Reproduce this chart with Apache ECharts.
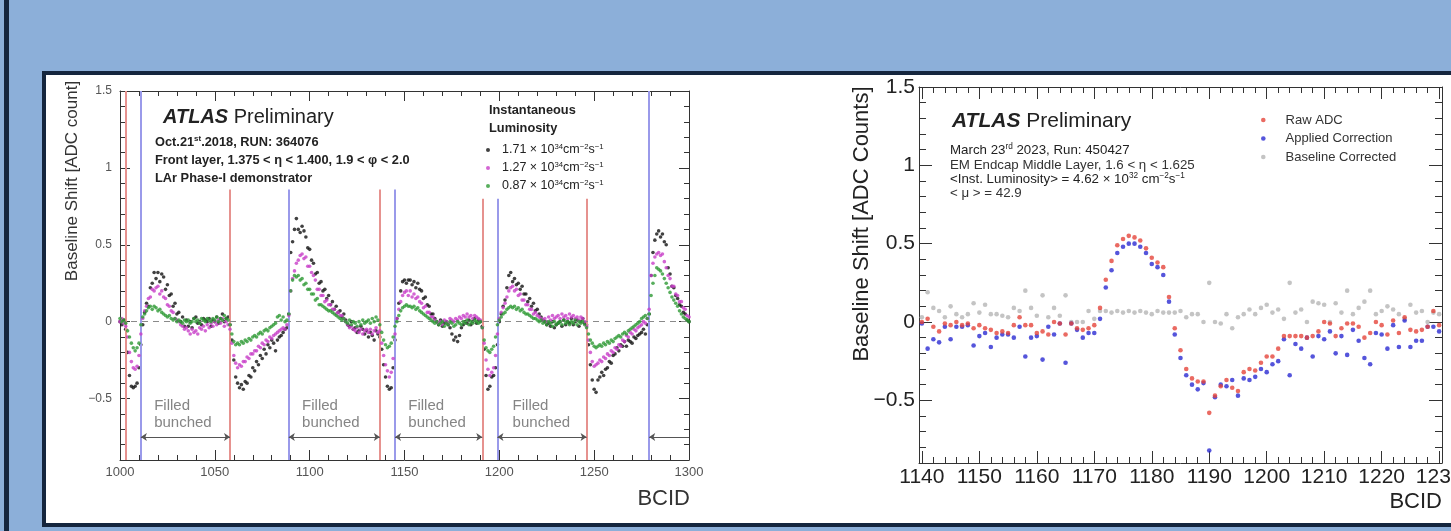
<!DOCTYPE html>
<html>
<head>
<meta charset="utf-8">
<title>Baseline Shift vs BCID</title>
<script src="https://cdn.jsdelivr.net/npm/echarts@6.0.0/dist/echarts.min.js"></script>
<style>
  html, body { margin: 0; padding: 0; }
  body { width: 1451px; height: 531px; overflow: hidden; background: #8cafd9; position: relative; }
  .stripe { position: absolute; left: 4px; top: 0; width: 5px; height: 531px; background: #15263e; }
  .panel { position: absolute; left: 42px; top: 71px; width: 1430px; height: 456px; box-sizing: border-box; border: 4px solid #15263e; background: #fff; }
  #chart { position: absolute; left: 0; top: 0; width: 1451px; height: 531px; }
</style>
</head>
<body>
<div class="stripe"></div>
<div class="panel"></div>
<div id="chart"></div>
<script>
// --- 1. data ---

// left plot: one value per BCID, starting at 1000
const LEFT_FIRST_BCID = 1000
const lumiLabels = ['1.71', '1.27', '0.87']
const shiftLumi171 = [
  0.0, -0.02, 0.01, -0.05, -0.2, -0.35, -0.42, -0.43, -0.42, -0.4, -0.3,            // 1000
  -0.15, -0.02, 0.06, 0.12, 0.1, 0.22, 0.25, 0.32, 0.28, 0.32, 0.26, 0.31,          // 1011
  0.29, 0.21, 0.24, 0.17, 0.18, 0.1, 0.12, 0.05, 0.06, 0.0, 0.03, -0.03, 0.01,      // 1023
  -0.03, 0.0, -0.04, 0.02, 0.03, -0.01, 0.0, -0.02, 0.02, 0.01, 0.0, 0.02,          // 1036
  -0.03, 0.01, 0.0, 0.03, -0.01, 0.02, 0.05, 0.0, 0.02, 0.03, -0.02,                // 1048
  -0.12, -0.25, -0.36, -0.4, -0.43, -0.41, -0.44, -0.39, -0.4, -0.35, -0.36, -0.3,  // 1059
  -0.32, -0.26, -0.28, -0.22, -0.24, -0.18, -0.21, -0.15, -0.17, -0.12, -0.14, -0.19, // 1071
  -0.12, -0.1, -0.09, -0.07, -0.05, -0.04, 0.05, 0.45, 0.52, 0.6, 0.67,              // 1083
  0.6, 0.58, 0.62, 0.59, 0.55, 0.48, 0.47, 0.4, 0.38, 0.31, 0.32, 0.25,             // 1094
  0.26, 0.2, 0.21, 0.15, 0.17, 0.11, 0.13, 0.08, 0.1, 0.06, 0.07, 0.03, 0.05,       // 1106
  0.01, -0.02, -0.03, 0.0, -0.05, -0.04, -0.07, -0.06, -0.03, -0.05, -0.08, -0.06,  // 1119
  -0.1, -0.07, -0.09, -0.12, -0.06, -0.08, -0.1, -0.18, -0.28, -0.36, -0.42, -0.44, -0.43, -0.3, -0.12, // 1131
  0.02, 0.12, 0.2, 0.26, 0.27, 0.25, 0.27, 0.27, 0.24, 0.26, 0.22, 0.25, 0.21,      // 1146
  0.2, 0.15, 0.16, 0.11, 0.1, 0.05, 0.05, 0.02, 0.0, -0.02, 0.01, -0.03, -0.01, 0.0, -0.02, -0.04, // 1159
  -0.08, -0.12, -0.1, -0.13, -0.09, -0.04, -0.02, 0.0, -0.01, 0.01, -0.02, 0.0, 0.02, -0.01, 0.01, 0.0, // 1175
  -0.03, -0.18, -0.35, -0.44, -0.42, -0.36, -0.35, -0.3, -0.15, 0.0, 0.05, 0.1, 0.14, // 1191
  0.22, 0.3, 0.32, 0.26, 0.28, 0.24, 0.25, 0.21, 0.23, 0.18, 0.18, 0.13, 0.15, 0.1, 0.12, 0.07, 0.08, // 1204
  0.05, 0.03, 0.01, 0.0, -0.02, -0.01, -0.03, 0.0, -0.04, -0.02,                    // 1221
  -0.01, 0.0, -0.03, 0.01, -0.02, 0.0, -0.01, 0.02, -0.02, 0.0, 0.01, -0.03, 0.0, 0.02, -0.01, -0.02, // 1231
  -0.15, -0.28, -0.38, -0.44, -0.46, -0.38, -0.36, -0.33, -0.35, -0.31, -0.3, -0.26, // 1247
  -0.27, -0.22, -0.21, -0.17, -0.19, -0.15, -0.16, -0.13, -0.16, -0.12, -0.13, -0.14, -0.1, -0.11, // 1259
  -0.09, -0.08, -0.07, -0.05, -0.08, -0.02, 0.05, 0.3, 0.45, 0.53, 0.57, 0.59, 0.55, 0.57, 0.52, 0.5, // 1273
  0.35, 0.31, 0.23, 0.22, 0.17, 0.15, 0.11, 0.1, 0.06, 0.05, 0.01, 0.0               // 1289
]
const shiftLumi127 = [
  0.0, 0.02, -0.01, -0.03, -0.1, -0.2, -0.26, -0.3, -0.31, -0.29, -0.22,
  -0.08, 0.02, 0.07, 0.1, 0.15, 0.16, 0.21, 0.2, 0.22, 0.23, 0.18, 0.2,
  0.16, 0.15, 0.11, 0.1, 0.07, 0.06, 0.02, 0.01, 0.0, -0.02, -0.03, -0.05, -0.04,
  -0.06, -0.08, -0.05, -0.07, -0.06, -0.08, -0.04, -0.05, -0.03, -0.06, -0.02, -0.04,
  -0.01, -0.03, 0.0, -0.02, 0.01, -0.01, 0.02, -0.03, 0.0, -0.02, -0.05,
  -0.14, -0.22, -0.27, -0.3, -0.28, -0.29, -0.26, -0.26, -0.23, -0.24, -0.21, -0.21,
  -0.19, -0.19, -0.16, -0.17, -0.14, -0.15, -0.12, -0.13, -0.1, -0.11, -0.09, -0.08,
  -0.07, -0.06, -0.05, -0.04, -0.05, -0.02, 0.04, 0.2, 0.28, 0.33, 0.38,
  0.4, 0.43, 0.44, 0.41, 0.42, 0.36, 0.36, 0.32, 0.3, 0.27, 0.21, 0.21,
  0.17, 0.17, 0.13, 0.14, 0.11, 0.11, 0.08, 0.08, 0.05, 0.06, 0.04, 0.04, 0.02,
  0.0, -0.02, -0.04, -0.03, -0.05, -0.06, -0.04, -0.07, -0.05, -0.08, -0.06, -0.05,
  -0.07, -0.05, -0.08, -0.06, -0.04, -0.07, -0.06, -0.14, -0.22, -0.28, -0.32, -0.36, -0.33, -0.24, -0.08,
  0.02, 0.08, 0.13, 0.17, 0.19, 0.2, 0.17, 0.2, 0.16, 0.18, 0.15, 0.16, 0.13,
  0.12, 0.09, 0.1, 0.06, 0.06, 0.03, 0.03, 0.01, 0.0, -0.01, 0.0, -0.02, 0.01, 0.0, -0.01, 0.02,
  0.01, 0.0, 0.02, 0.01, 0.03, 0.02, 0.04, 0.03, 0.05, 0.03, 0.04, 0.02, 0.04, 0.03, 0.02, 0.01,
  -0.04, -0.14, -0.25, -0.31, -0.35, -0.33, -0.3, -0.22, -0.08, 0.02, 0.06, 0.09, 0.12,
  0.16, 0.2, 0.22, 0.23, 0.2, 0.21, 0.17, 0.18, 0.14, 0.14, 0.11, 0.11, 0.08, 0.08, 0.05, 0.06, 0.04,
  0.03, 0.02, 0.01, 0.02, 0.0, 0.03, 0.01, 0.04, 0.02, 0.03,
  0.04, 0.02, 0.05, 0.03, 0.04, 0.02, 0.05, 0.03, 0.04, 0.02, 0.03, 0.01, 0.03, 0.02, 0.0, -0.03,
  -0.12, -0.2, -0.26, -0.29, -0.28, -0.27, -0.25, -0.26, -0.23, -0.24, -0.21, -0.22,
  -0.19, -0.2, -0.17, -0.18, -0.15, -0.16, -0.12, -0.13, -0.09, -0.1, -0.07, -0.08, -0.05, -0.06,
  -0.04, -0.03, -0.02, 0.0, -0.01, 0.02, 0.08, 0.3, 0.38, 0.42, 0.44, 0.45, 0.43, 0.44, 0.39, 0.35,
  0.3, 0.28, 0.23, 0.23, 0.18, 0.17, 0.13, 0.13, 0.09, 0.08, 0.04, 0.03
]
const shiftLumi087 = [
  0.02, 0.0, 0.01, -0.01, -0.06, -0.1, -0.14, -0.17, -0.19, -0.17, -0.14,
  -0.02, 0.03, 0.05, 0.07, 0.09, 0.1, 0.08, 0.1, 0.09, 0.07, 0.08, 0.06,
  0.05, 0.04, 0.03, 0.04, 0.02, 0.01, 0.02, 0.0, 0.01, 0.0, -0.01, 0.01, 0.0,
  0.01, -0.01, 0.0, 0.02, 0.0, 0.01, -0.01, 0.02, 0.01, 0.0, 0.02, 0.01,
  0.0, 0.02, 0.01, 0.03, 0.0, 0.02, 0.01, 0.04, 0.02, 0.01, -0.02,
  -0.08, -0.13, -0.15, -0.14, -0.15, -0.13, -0.14, -0.12, -0.13, -0.11, -0.12, -0.1,
  -0.09, -0.1, -0.08, -0.07, -0.08, -0.06, -0.05, -0.06, -0.04, -0.03, -0.02, -0.01,
  0.03, 0.04, 0.01, 0.03, 0.0, 0.01, 0.05, 0.2, 0.27, 0.3, 0.29,
  0.3, 0.27, 0.28, 0.24, 0.25, 0.21, 0.21, 0.18, 0.18, 0.14, 0.15, 0.11,
  0.11, 0.1, 0.09, 0.08, 0.07, 0.07, 0.06, 0.05, 0.04, 0.03, 0.02, 0.01, 0.02,
  0.0, -0.01, 0.01, -0.02, 0.0, -0.01, -0.03, 0.0, -0.02, 0.01, -0.01, 0.0,
  0.01, -0.01, 0.02, 0.0, 0.03, 0.01, -0.02, -0.07, -0.12, -0.15, -0.17, -0.16, -0.14, -0.1, -0.03,
  0.0, 0.04, 0.07, 0.09, 0.1, 0.11, 0.1, 0.1, 0.09, 0.1, 0.08, 0.09, 0.07,
  0.06, 0.05, 0.04, 0.03, 0.02, 0.01, 0.0, -0.01, 0.0, -0.02, -0.01, 0.0, -0.03, -0.01, -0.02, 0.0,
  -0.01, -0.03, -0.02, 0.0, -0.01, -0.02, 0.0, -0.01, 0.01, -0.02, 0.0, -0.01, 0.01, 0.0, -0.01, 0.0,
  -0.04, -0.12, -0.17, -0.19, -0.2, -0.18, -0.16, -0.1, -0.02, 0.01, 0.03, 0.05, 0.06,
  0.08, 0.09, 0.1, 0.09, 0.1, 0.08, 0.09, 0.07, 0.08, 0.06, 0.05, 0.05, 0.04, 0.03, 0.02, 0.02, 0.01,
  0.0, 0.01, -0.01, 0.0, -0.02, 0.0, -0.01, -0.03, 0.0, -0.02,
  -0.01, 0.0, -0.02, 0.01, -0.01, 0.0, -0.02, 0.0, -0.01, 0.01, -0.02, 0.0, -0.01, 0.0, -0.02, -0.04,
  -0.08, -0.12, -0.14, -0.16, -0.17, -0.16, -0.15, -0.16, -0.14, -0.15, -0.13, -0.14,
  -0.12, -0.13, -0.11, -0.1, -0.09, -0.1, -0.08, -0.07, -0.08, -0.06, -0.05, -0.04, -0.03, -0.02,
  -0.01, 0.0, 0.02, 0.03, 0.04, 0.02, 0.05, 0.17, 0.25, 0.3, 0.35, 0.34, 0.33, 0.31, 0.28, 0.25,
  0.22, 0.19, 0.16, 0.14, 0.12, 0.1, 0.07, 0.05, 0.03, 0.02, 0.01, 0.0
]
const redLineBcid = [1003, 1058, 1137, 1191, 1246]
const redLineTop = [1.5, 0.86, 0.86, 0.8, 0.8]
const blueLineBcid = [1011, 1089, 1145, 1199, 1279]
const blueLineTop = [1.5, 0.86, 0.86, 0.8, 1.5]
const trainFrom = [1011, 1089, 1145, 1199, 1279]
const trainTo = [1058, 1137, 1191, 1246, 1300]
const trainLabelAt = [1018, 1096, 1152, 1207]

// right plot: one value per BCID, starting at 1140
const RIGHT_FIRST_BCID = 1140
const rightNames = ['Raw ADC', 'Applied Correction', 'Baseline Corrected']
const rawAdc = [
  0.0, 0.02, -0.03, -0.06, -0.01, -0.02, 0.0, -0.02, -0.01, -0.04,   // 1140
  -0.02, -0.04, -0.05, -0.07, -0.06, -0.07, -0.02, 0.03, -0.02, -0.02,
  -0.07, -0.06, -0.08, 0.0, -0.01, -0.08, -0.01, -0.04, -0.05, -0.04,
  -0.02, 0.09, 0.27, 0.39, 0.49, 0.53, 0.55, 0.54, 0.52, 0.47,       // 1170
  0.41, 0.38, 0.35, 0.16, -0.04, -0.18, -0.3, -0.36, -0.38, -0.38,
  -0.58, -0.47, -0.41, -0.37, -0.42, -0.44, -0.32, -0.3, -0.31, -0.26,
  -0.22, -0.22, -0.17, -0.09, -0.09, -0.09, -0.09, -0.1, -0.09, -0.06, // 1200
  0.0, -0.01, -0.09, -0.04, -0.01, -0.01, -0.03, -0.1, -0.07, 0.0,
  -0.02, -0.08, 0.01, -0.07, 0.03, -0.05, -0.06, -0.05, -0.03, 0.07, -0.02
]
const appliedCorrection = [
  -0.01, -0.17, -0.11, -0.13, -0.03, -0.11, -0.03, -0.03, -0.02, -0.15,
  -0.09, -0.07, -0.16, -0.1, -0.08, -0.08, -0.1, -0.03, -0.22, -0.1,
  -0.09, -0.24, -0.03, -0.08, -0.01, -0.26, -0.01, -0.05, -0.1, -0.07,
  -0.07, 0.02, 0.22, 0.33, 0.44, 0.48, 0.5, 0.5, 0.48, 0.44,
  0.37, 0.35, 0.3, 0.13, -0.08, -0.23, -0.34, -0.4, -0.43, -0.39,
  -0.82, -0.48, -0.4, -0.41, -0.37, -0.47, -0.36, -0.37, -0.35, -0.3,
  -0.32, -0.27, -0.25, -0.11, -0.34, -0.14, -0.17, -0.1, -0.22, -0.09,
  -0.11, -0.06, -0.2, -0.09, -0.21, -0.05, -0.12, -0.23, -0.27, -0.07,
  -0.08, -0.17, -0.02, -0.16, 0.01, -0.16, -0.12, -0.12, -0.03, -0.03, -0.06
]
const baselineCorrected = [
  0.03, 0.19, 0.09, 0.07, 0.03, 0.1, 0.05, 0.03, 0.05, 0.12,
  0.06, 0.11, 0.05, 0.05, 0.04, 0.03, 0.09, 0.07, 0.2, 0.09,
  0.04, 0.17, 0.03, 0.09, 0.04, 0.17, 0.0, 0.0, 0.0, 0.07,
  0.02, 0.07, 0.07, 0.06, 0.07, 0.06, 0.07, 0.06, 0.07, 0.06,
  0.05, 0.07, 0.06, 0.06, 0.06, 0.07, 0.03, 0.05, 0.05, 0.0,
  0.25, 0.0, -0.01, 0.05, -0.04, 0.03, 0.05, 0.08, 0.05, 0.09,
  0.11, 0.06, 0.08, 0.02, 0.25, 0.06, 0.08, 0.0, 0.13, 0.12,
  0.11, 0.0, 0.12, 0.06, 0.2, 0.05, 0.09, 0.13, 0.2, 0.05,
  0.07, 0.1, 0.08, 0.05, 0.02, 0.11, 0.06, 0.07, 0.0, 0.06, 0.05
]

// tick labels
const leftXMajor = [1000, 1050, 1100, 1150, 1200, 1250, 1300]
const rightXMajor = [1140, 1150, 1160, 1170, 1180, 1190, 1200, 1210, 1220, 1230]
const yMajor = [-0.5, 0, 0.5, 1, 1.5]

// --- 2. helpers ---
const FONT = "'Liberation Sans', Arial, Helvetica, sans-serif"
const LINE = { color: '#333', width: 1 }

const steps = (from, to, step) => {
  const out = []
  for (let v = from; v <= to + 1e-9; v += step) out.push(Math.round(v * 1000) / 1000)
  return out
}
const leftXMinor = steps(1000, 1300, 10)
const rightXMinor = steps(1140, 1230, 2)
const yMinor = steps(-0.9, 1.5, 0.1)

const minus = (v) => (v < 0 ? '\u2212' + Math.abs(v) : String(v))

// a frame side: one axis for the short ticks and the line, one for the long ticks and labels
function side(gridIndex, position, min, max, minor, major, lens, label) {
  const base = {
    type: 'value', gridIndex, position, min, max,
    splitLine: { show: false }, axisPointer: { show: false }, silent: true,
  }
  return [
    {
      ...base,
      axisLine: { show: true, onZero: false, lineStyle: LINE },
      axisTick: { show: true, inside: true, length: lens[0], customValues: minor, lineStyle: LINE },
      axisLabel: { show: false },
    },
    {
      ...base,
      axisLine: { show: false, onZero: false },
      axisTick: { show: true, inside: true, length: lens[1], customValues: major, lineStyle: LINE },
      axisLabel: label
        ? { show: true, customValues: major, formatter: minus, fontFamily: FONT, ...label }
        : { show: false },
    },
  ]
}

const supRich = (size, color, bold) => ({
  t: { fontSize: size, lineHeight: 14, verticalAlign: 'middle', color, fontFamily: FONT, fontWeight: bold ? 'bold' : 'normal' },
  s: { fontSize: size * 0.62, lineHeight: 6, verticalAlign: 'top', color, fontFamily: FONT, fontWeight: bold ? 'bold' : 'normal' },
})

function label(x, y, text, opts = {}) {
  return {
    type: 'text', x, y, rotation: opts.rotation || 0, silent: true,
    style: {
      text,
      fontFamily: FONT,
      fontSize: opts.size || 13,
      fontWeight: opts.bold ? 'bold' : 'normal',
      fill: opts.color || '#222',
      align: opts.align || 'left',
      verticalAlign: 'middle',
      rich: opts.rich,
    },
  }
}

// --- 3. chart ---
const chart = echarts.init(document.getElementById('chart'), null, { renderer: 'canvas' })

const atlasRich = (size) => ({
  a: { fontSize: size, fontWeight: 'bold', fontStyle: 'italic', fontFamily: FONT, color: '#111' },
  p: { fontSize: size, fontFamily: FONT, color: '#222' },
})

const graphics = [
  // left plot texts
  label(163, 117, '{a|ATLAS} {p|Preliminary}', { size: 20, rich: atlasRich(20) }),
  label(155, 142, '{t|Oct.21}{s|st}{t|.2018, RUN: 364076}', { bold: true, rich: supRich(12.8, '#222', true) }),
  label(155, 160, 'Front layer, 1.375 < \u03b7 < 1.400, 1.9 < \u03c6 < 2.0', { bold: true, size: 12.8 }),
  label(155, 178, 'LAr Phase-I demonstrator', { bold: true, size: 12.8 }),
  label(489, 110, 'Instantaneous', { bold: true, size: 12.8 }),
  label(489, 128, 'Luminosity', { bold: true, size: 12.8 }),
  label(72, 181, 'Baseline Shift [ADC count]', { size: 17, rotation: Math.PI / 2, align: 'center', color: '#333' }),
  label(690, 499, 'BCID', { size: 22, align: 'right', color: '#333' }),
  // right plot texts
  label(952, 121, '{a|ATLAS} {p|Preliminary}', { size: 21, rich: atlasRich(21) }),
  label(950, 150, '{t|March 23}{s|rd}{t| 2023, Run: 450427}', { rich: supRich(13.3, '#333') }),
  label(950, 165, 'EM Endcap Middle Layer, 1.6 < \u03b7 < 1.625', { color: '#333', size: 13.3 }),
  label(950, 179, '{t|<Inst. Luminosity> = 4.62 \u00d7 10}{s|32}{t| cm}{s|\u22122}{t|s}{s|\u22121}', { rich: supRich(13.3, '#333') }),
  label(950, 193, '< \u03bc > = 42.9', { color: '#333', size: 13.3 }),
  label(862, 224, 'Baseline Shift [ADC Counts]', { size: 22, rotation: Math.PI / 2, align: 'center', color: '#222' }),
  label(1442, 502, 'BCID', { size: 22, align: 'right', color: '#222' }),
]

const toPairs = (first, values) => values.map((v, i) => [first + i, v])

const lumiColors = ['#111111', '#c83ec8', '#2e9a34']
const lumiShifts = [shiftLumi171, shiftLumi127, shiftLumi087]
const leftSeries = lumiLabels.map((name, i) => ({
  name, type: 'scatter', xAxisIndex: 0, yAxisIndex: 0,
  symbol: 'circle', symbolSize: 3.6, z: 4 + i,
  itemStyle: { color: lumiColors[i] },
  data: toPairs(LEFT_FIRST_BCID, lumiShifts[i]),
}))

const rightColors = ['#e5453b', '#2a2ad2', '#b5b5b5']
const rightValues = [rawAdc, appliedCorrection, baselineCorrected]
const rightSeries = rightNames.map((name, i) => ({
  name, type: 'scatter', xAxisIndex: 4, yAxisIndex: 4,
  symbol: 'circle', symbolSize: 4.6, z: 6 - i,
  itemStyle: { color: rightColors[i] },
  data: toPairs(RIGHT_FIRST_BCID, rightValues[i]),
}))

const guide = (name, markLine, extra = {}) => ({
  name, type: 'scatter', xAxisIndex: 0, yAxisIndex: 0, data: [], silent: true,
  markLine: { silent: true, symbol: 'none', label: { show: false }, animation: false, ...markLine },
  ...extra,
})

const guideSeries = [
  guide('redLines', {
    lineStyle: { color: '#e6928f', width: 2, type: 'solid' },
    data: redLineBcid.map((b, i) => [{ coord: [b, -0.9] }, { coord: [b, redLineTop[i]] }]),
  }),
  guide('blueLines', {
    lineStyle: { color: '#9a9aea', width: 2, type: 'solid' },
    data: blueLineBcid.map((b, i) => [{ coord: [b, -0.9] }, { coord: [b, blueLineTop[i]] }]),
  }),
  guide('zero', {
    lineStyle: { color: '#8a8a8a', width: 1, type: [6, 5] },
    data: [{ yAxis: 0 }],
  }),
  guide('trains', {
    symbolSize: 6,
    lineStyle: { color: '#555', width: 1, type: 'solid' },
    data: trainFrom.map((b, i) => [
      { coord: [b, -0.75], symbol: 'arrow' },
      { coord: [trainTo[i], -0.75], symbol: i < trainLabelAt.length ? 'arrow' : 'none' },
    ]),
  }, {
    markPoint: {
      silent: true, symbol: 'circle', symbolSize: 0, animation: false,
      label: {
        show: true, position: 'right', distance: 0, formatter: 'Filled\nbunched',
        color: '#858585', fontSize: 15, lineHeight: 17, fontFamily: FONT,
      },
      data: trainLabelAt.map((b) => ({ coord: [b, -0.605] })),
    },
  }),
]

const option = {
  animation: false,
  textStyle: { fontFamily: FONT },
  grid: [
    { left: 120, top: 91, width: 569, height: 369, outerBoundsMode: 'none' },
    { left: 919, top: 87, width: 523, height: 376, outerBoundsMode: 'none' },
  ],
  xAxis: [
    ...side(0, 'bottom', 1000, 1300, leftXMinor, leftXMajor, [5, 10], { fontSize: 13, color: '#555', margin: 6 }),
    ...side(0, 'top', 1000, 1300, leftXMinor, leftXMajor, [5, 10]),
    ...side(1, 'bottom', 1139.5, 1230.5, rightXMinor, rightXMajor, [6, 12], { fontSize: 21, color: '#222', margin: 4 }),
    ...side(1, 'top', 1139.5, 1230.5, rightXMinor, rightXMajor, [6, 12]),
  ],
  yAxis: [
    ...side(0, 'left', -0.9, 1.5, yMinor, yMajor, [5, 10], { fontSize: 12, color: '#555', margin: 8 }),
    ...side(0, 'right', -0.9, 1.5, yMinor, yMajor, [5, 10]),
    ...side(1, 'left', -0.9, 1.5, yMinor, yMajor, [7, 13], { fontSize: 21, color: '#222', margin: 4 }),
    ...side(1, 'right', -0.9, 1.5, yMinor, yMajor, [7, 13]),
  ],
  legend: [
    {
      data: lumiLabels, orient: 'vertical', left: 486, top: 143, padding: 0,
      itemWidth: 4, itemHeight: 4, itemGap: 4.5, icon: 'circle', selectedMode: false,
      formatter: (n) => `{t|${n} \u00d7 10}{s|34}{t|cm}{s|\u22122}{t|s}{s|\u22121}`,
      textStyle: { fontSize: 12.5, padding: [0, 0, 0, 7], rich: supRich(12.5, '#222') },
    },
    {
      data: rightNames, orient: 'vertical', left: 1261, top: 113, padding: 0,
      itemWidth: 4.6, itemHeight: 4.6, itemGap: 4.5, icon: 'circle', selectedMode: false,
      textStyle: { fontSize: 13, color: '#333', lineHeight: 14, padding: [0, 0, 0, 15] },
    },
  ],
  graphic: graphics,
  series: [...guideSeries, ...leftSeries, ...rightSeries],
}

chart.setOption(option)
</script>
</body>
</html>
